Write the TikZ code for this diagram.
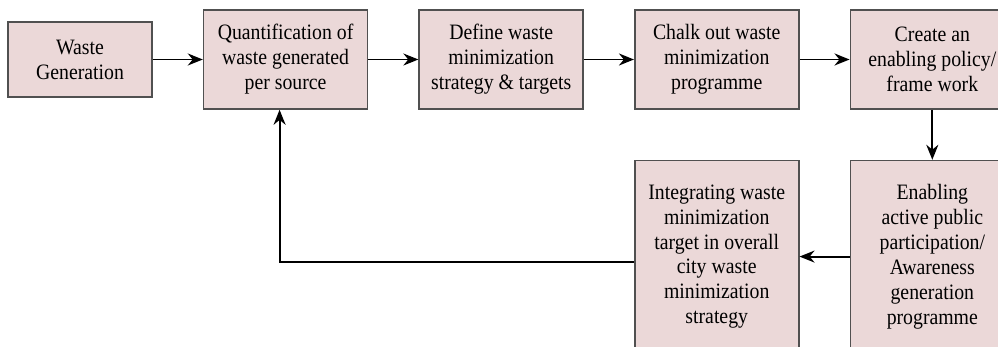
\documentclass[tikz,border=0pt]{standalone}
\usepackage{fontspec}
\setmainfont{Liberation Serif}[FakeStretch=0.9]
\usepackage{tikz}
\usetikzlibrary{positioning,arrows.meta}
\definecolor{boxfill}{RGB}{235,216,216}
\definecolor{boxline}{RGB}{80,80,80}

\begin{document}
\begin{tikzpicture}[
    font=\fontsize{12.5}{14.2}\selectfont,
    stage/.style={draw=boxline,fill=boxfill,line width=0.9pt,align=center,inner sep=2pt,
        minimum width=3.28cm,minimum height=1.98cm},
    tall/.style={stage,minimum height=3.84cm},
    flow/.style={-{Stealth[length=3mm,width=2.4mm]},line width=1.1pt},
    node distance=1cm,
]
    \useasboundingbox (0,0) rectangle (19.96,-6.94);
    \clip (0,0) rectangle (19.96,-6.94);

    %top row
    \node[stage,minimum width=2.88cm,minimum height=1.5cm] (gen) at (1.6,-1.19) {Waste\\Generation};
    \node[stage,right=of gen] (quant) {Quantification of\\waste generated\\per source};
    \node[stage,right=of quant] (strat) {Define waste\\minimization\\strategy \& targets};
    \node[stage,right=of strat] (prog) {Chalk out waste\\minimization\\programme};
    \node[stage,right=of prog] (policy) {Create an\\enabling policy/\\frame work};

    %bottom row
    \node[tall,below=of policy] (aware) {Enabling\\active public\\participation/\\Awareness\\generation\\programme};
    \node[tall,left=of aware] (integ) {Integrating waste\\minimization\\target in overall\\city waste\\minimization\\strategy};

    \draw[flow] (gen) -- (quant);
    \draw[flow] (quant) -- (strat);
    \draw[flow] (strat) -- (prog);
    \draw[flow] (prog) -- (policy);
    \draw[flow] (policy) -- (aware);
    \draw[flow] (aware) -- (integ);
    \draw[flow] ([yshift=-0.1cm]integ.west) -| ([xshift=-0.12cm]quant.south);
\end{tikzpicture}
\end{document}
